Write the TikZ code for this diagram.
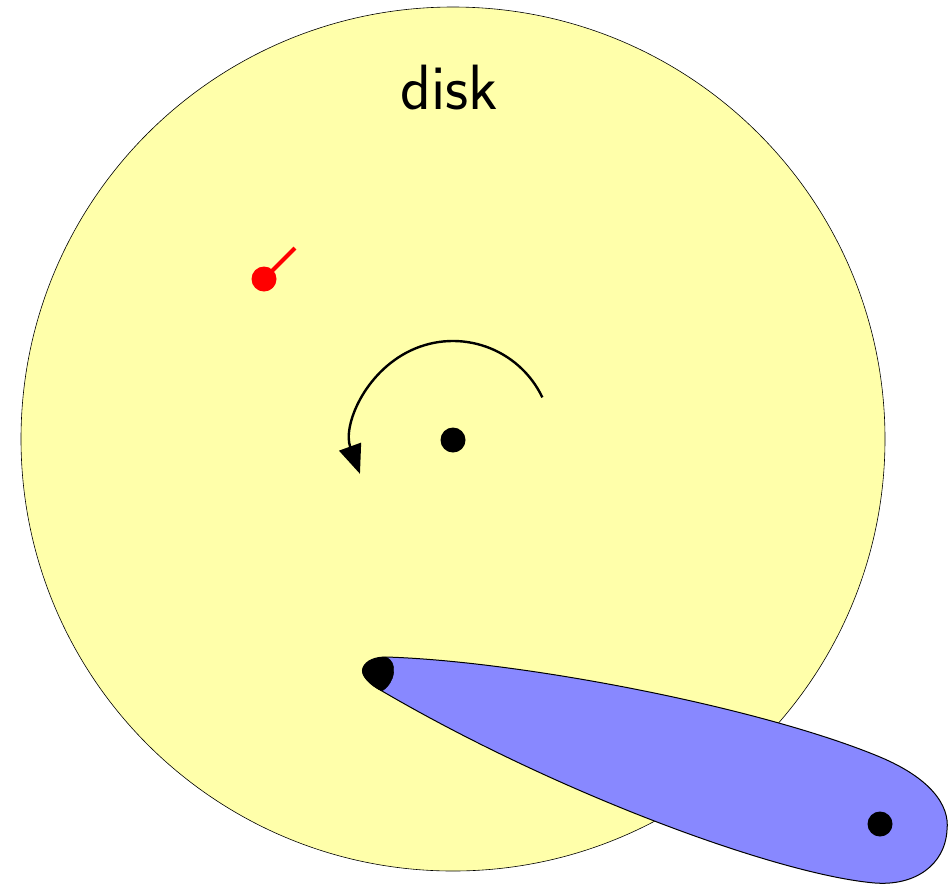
\documentclass[tikz,border=0pt]{standalone}
\usetikzlibrary{arrows.meta}
\definecolor{diskyellow}{RGB}{255,255,170}
\definecolor{armblue}{RGB}{136,136,255}
\tikzset{
  dot/.style={circle,fill=black,inner sep=0pt,minimum size=25pt},
  reddot/.style={circle,fill=red,inner sep=0pt,minimum size=25pt},
}
\begin{document}
\begin{tikzpicture}[x=1pt,y=-1pt]
\useasboundingbox (0,0) rectangle (949,884);
\node[circle,draw=black,line width=0.6pt,fill=diskyellow,inner sep=0pt,minimum size=864pt] (disk) at (453,439) {};
\node[anchor=base] (label) at (449,109) {\fontsize{64}{76}\selectfont\sffamily disk};
% red pin
\node[reddot] (pin) at (264,279) {};
\coordinate (pinend) at (295,248);
\draw[red,line width=4pt] (pin.center) -- (pinend);
% center
\node[dot] (hub) at (453,440) {};
\draw[line width=2.4pt,-{Triangle[length=29pt,width=23pt]}] (hub.center) ++(-25.5:99) arc[start angle=-25.5,end angle=-200,radius=99];
% arm
\draw[fill=armblue,line width=1pt] (386,657) .. controls (520,661) and (760,707) .. (880,757)
  .. controls (930,778) and (950,805) .. (947,830)
  .. controls (945,865) and (915,886) .. (875,883)
  .. controls (780,875) and (560,795) .. (382,691)
  .. controls (370,685) and (360,675) .. (363,668)
  .. controls (366,660) and (376,657) .. cycle;
\draw[fill=black] (363,668) .. controls (366,661) and (376,657) .. (386,657) .. controls (398,662) and (396,682) .. (382,691) .. controls (370,685) and (360,675) .. cycle;
\node[dot] (tail) at (880,824) {};
\end{tikzpicture}
\end{document}
